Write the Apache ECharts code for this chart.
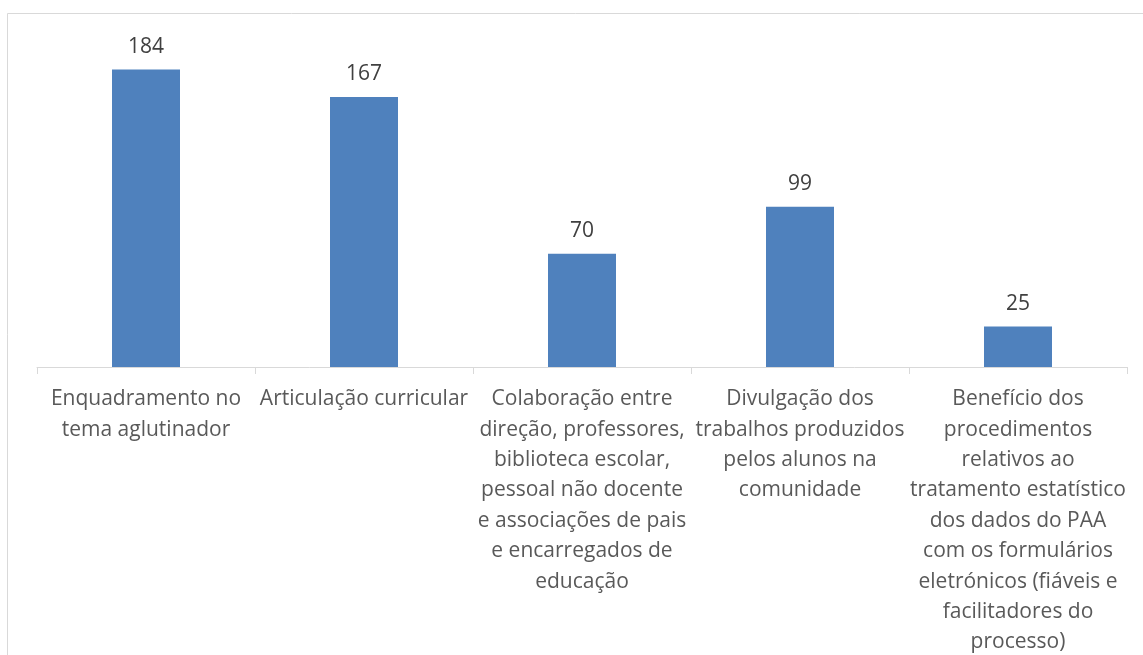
<!DOCTYPE html>
<html>
<head>
<meta charset="utf-8">
<script src="https://cdn.jsdelivr.net/npm/echarts@6/dist/echarts.min.js"></script>
<style>html,body{margin:0;padding:0;background:#fff}#c{width:1143px;height:655px}</style>
</head>
<body>
<div id="c"></div>
<script>
const categories = [
  "Enquadramento no\ntema aglutinador",
  "Articulação curricular",
  "Colaboração entre\ndireção, professores,\nbiblioteca escolar,\npessoal não docente\ne associações de pais\ne encarregados de\neducação",
  "Divulgação dos\ntrabalhos produzidos\npelos alunos na\ncomunidade",
  "Benefício dos\nprocedimentos\nrelativos ao\ntratamento estatístico\ndos dados do PAA\ncom os formulários\neletrónicos (fiáveis e\nfacilitadores do\nprocesso)"
];
const values = [184, 167, 70, 99, 25];

const chart = echarts.init(document.getElementById('c'), null, {renderer: 'canvas'});
const FONT = '"Open Sans"';
chart.setOption({
  animation: false,
  backgroundColor: '#ffffff',
  graphic: [{
    type: 'rect',
    shape: {x: 7.5, y: 13.5, width: 1160, height: 700},
    style: {fill: 'none', stroke: '#d9d9d9', lineWidth: 1},
    silent: true
  }],
  grid: {left: 37, right: 16, top: 43.5, bottom: 288, containLabel: false, outerBoundsMode: 'none'},
  xAxis: {
    type: 'category',
    data: categories,
    axisLine: {lineStyle: {color: '#d9d9d9', width: 1}},
    axisTick: {show: true, length: 7, lineStyle: {color: '#d9d9d9'}},
    axisLabel: {
      interval: 0,
      margin: 17,
      color: '#595959',
      fontFamily: FONT,
      fontSize: 21,
      lineHeight: 30.4,
      align: 'center',
      verticalAlign: 'top'
    }
  },
  yAxis: {
    type: 'value',
    min: 0,
    max: 200,
    show: false,
    splitLine: {show: false}
  },
  series: [{
    type: 'bar',
    data: values,
    barWidth: 68,
    itemStyle: {color: '#4f81bd'},
    label: {
      show: true,
      position: 'top',
      distance: 12,
      color: '#404040',
      fontFamily: FONT,
      fontSize: 21
    }
  }]
});
</script>
</body>
</html>
